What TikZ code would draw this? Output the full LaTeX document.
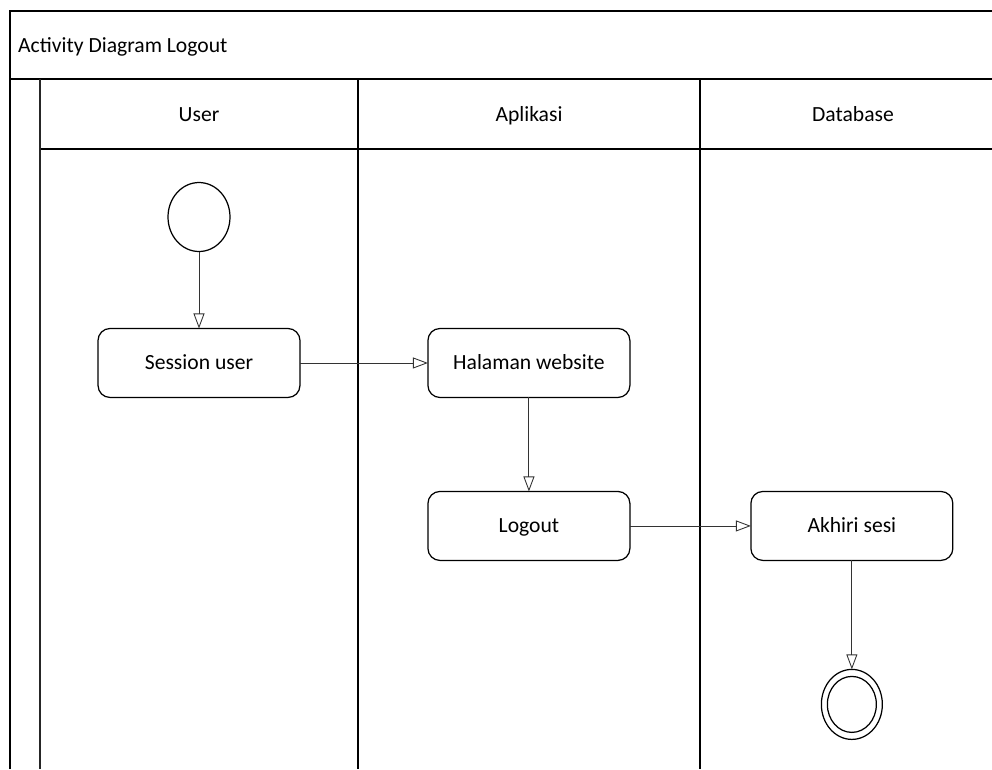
\documentclass[tikz,border=0pt]{standalone}
\usepackage{fontspec}
\setmainfont{Carlito}
\usetikzlibrary{positioning,arrows.meta,shapes.geometric}

\tikzset{
  bingkai/.style={line width=1.2pt},
  aksi/.style={rectangle, rounded corners=0.24cm, draw, line width=0.7pt, outer sep=0pt, minimum width=4.04cm, minimum height=1.38cm, font=\fontsize{12.3}{14}\selectfont, text height=7.9pt, text depth=0pt},
  awal/.style={ellipse, draw, line width=0.7pt, outer sep=0pt, minimum width=1.24cm, minimum height=1.38cm, inner sep=0pt},
  akhir/.style={ellipse, draw, line width=0.7pt, outer sep=0pt, minimum width=1.22cm, minimum height=1.4cm, inner sep=0pt},
  alur/.style={-{Triangle[open,length=0.3cm,width=0.22cm]}, draw=black!80, line width=0.5pt},
  judul/.style={font=\fontsize{12.3}{14}\selectfont, text height=7.9pt, text depth=0pt}
}

\begin{document}
\begin{tikzpicture}[x=0.02cm, y=-0.02cm]
    \useasboundingbox (0,0) rectangle (992,769);
    % swimlane frame
    \draw[bingkai] (10,769) -- (10,11) -- (992,11);
    \draw[bingkai] (10,79) -- (992,79);
    \draw[bingkai] (40,149) -- (992,149);
    \draw[line width=1pt, black!85] (40,79) -- (40,769);
    \draw[bingkai] (358,79) -- (358,769);
    \draw[bingkai] (700,79) -- (700,769);
    \node[judul, anchor=west] (diagram) at (12,46) {Activity Diagram Logout};
    \node[judul] (lajurUser) at (199,115) {User};
    \node[judul] (lajurAplikasi) at (529,115) {Aplikasi};
    \node[judul] (lajurDatabase) at (853,115) {Database};
    % activities
    \node[awal] (mulai) at (199,217) {};
    \node[aksi, below=1.54cm of mulai] (session) {Session user};
    \node[aksi, right=2.56cm of session] (halaman) {Halaman website};
    \node[aksi, below=1.88cm of halaman] (logout) {Logout};
    \node[aksi, right=2.42cm of logout] (akhiri) {Akhiri sesi};
    \node[akhir, below=2.18cm of akhiri] (selesai) {};
    \node[akhir, minimum width=0.98cm, minimum height=1.12cm] (selesaiDalam) at (selesai) {};
    \draw[alur] (mulai) -- (session);
    \draw[alur] (session) -- (halaman);
    \draw[alur] (halaman) -- (logout);
    \draw[alur] (logout) -- (akhiri);
    \draw[alur] (akhiri) -- (selesai);
\end{tikzpicture}
\end{document}
